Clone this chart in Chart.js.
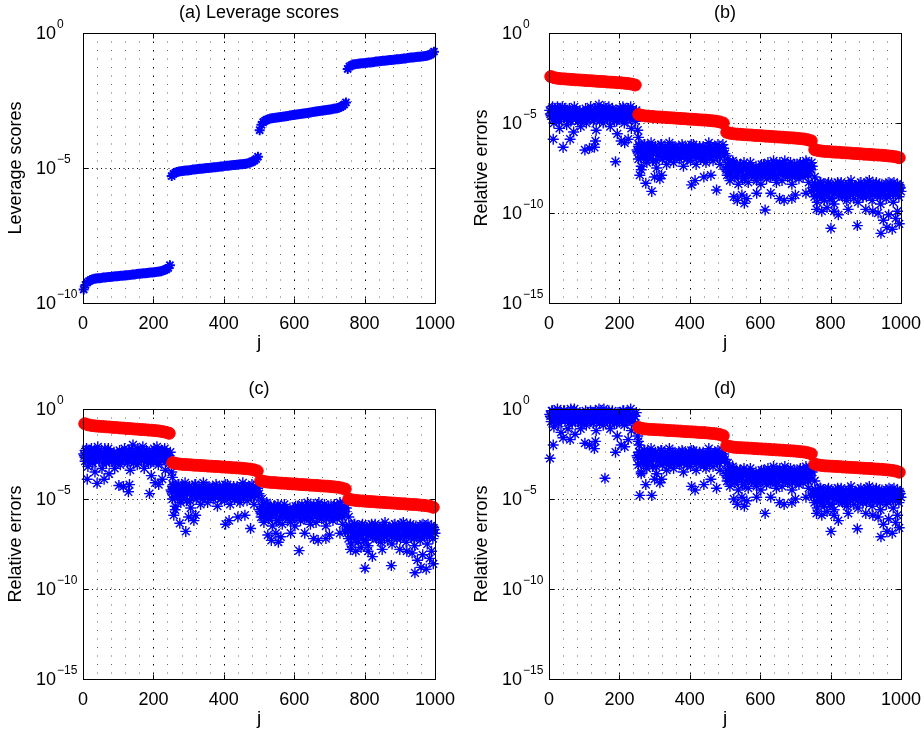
<!DOCTYPE html>
<html lang="en">
  <head>
    <meta charset="UTF-8" />
    <title>Leverage scores and relative errors</title>
    <script src="https://cdn.jsdelivr.net/npm/chart.js"></script>
    <style>
      * {
        margin: 0;
        padding: 0;
        box-sizing: border-box;
      }
      body {
        background: #fff;
        width: 924px;
        height: 732px;
        position: relative;
        overflow: hidden;
      }
      canvas {
        position: absolute;
      }
    </style>
  </head>
  <body>
    <canvas id="pa" width="462" height="366" style="left:0;top:0"></canvas>
    <canvas id="pb" width="462" height="366" style="left:462px;top:0"></canvas>
    <canvas id="pc" width="462" height="366" style="left:0;top:366px"></canvas>
    <canvas id="pd" width="462" height="366" style="left:462px;top:366px"></canvas>

    <script>
      // x axis
      const xTicks = [0, 200, 400, 600, 800, 1000];
      const xMinorStep = 40;
      // y ticks given as powers of ten
      const yTicksA = [0, -5, -10];
      const yTicksErr = [0, -5, -10, -15];

      // (a) leverage scores, log10 value at j = 2, 7, 12, ... 997
      const leverageLog = [
        -9.50,-9.33,-9.24,-9.19,-9.15,-9.12,-9.10,-9.09,-9.08,-9.08,
        -9.07,-9.06,-9.06,-9.05,-9.04,-9.04,-9.03,-9.02,-9.01,-9.01,
        -9.00,-8.99,-8.99,-8.98,-8.97,-8.97,-8.96,-8.95,-8.94,-8.94,
        -8.93,-8.92,-8.92,-8.91,-8.90,-8.90,-8.89,-8.88,-8.87,-8.87,
        -8.86,-8.85,-8.84,-8.83,-8.82,-8.80,-8.78,-8.75,-8.70,-8.60,
        -5.30,-5.22,-5.18,-5.15,-5.13,-5.12,-5.11,-5.10,-5.09,-5.09,
        -5.08,-5.07,-5.06,-5.06,-5.05,-5.04,-5.03,-5.03,-5.02,-5.01,
        -5.00,-5.00,-4.99,-4.98,-4.97,-4.97,-4.96,-4.95,-4.94,-4.94,
        -4.93,-4.92,-4.92,-4.91,-4.90,-4.89,-4.89,-4.88,-4.87,-4.86,
        -4.86,-4.85,-4.84,-4.83,-4.81,-4.79,-4.76,-4.72,-4.67,-4.58,
        -3.60,-3.40,-3.30,-3.25,-3.21,-3.19,-3.17,-3.16,-3.15,-3.14,
        -3.13,-3.12,-3.11,-3.10,-3.09,-3.08,-3.07,-3.06,-3.05,-3.04,
        -3.03,-3.02,-3.01,-3.00,-2.99,-2.98,-2.97,-2.96,-2.95,-2.94,
        -2.93,-2.92,-2.91,-2.90,-2.89,-2.88,-2.87,-2.86,-2.85,-2.84,
        -2.83,-2.82,-2.81,-2.80,-2.79,-2.77,-2.74,-2.70,-2.65,-2.57,
        -1.33,-1.24,-1.20,-1.17,-1.16,-1.15,-1.14,-1.13,-1.12,-1.12,
        -1.11,-1.10,-1.09,-1.09,-1.08,-1.07,-1.06,-1.06,-1.05,-1.04,
        -1.03,-1.03,-1.02,-1.01,-1.00,-1.00,-0.99,-0.98,-0.97,-0.97,
        -0.96,-0.95,-0.94,-0.94,-0.93,-0.92,-0.91,-0.91,-0.90,-0.89,
        -0.88,-0.88,-0.87,-0.86,-0.85,-0.84,-0.82,-0.80,-0.76,-0.69
      ];
      const leverageJ = leverageLog.map((_, i) => 2 + 5 * i);

      // red circles, log10 value at j = 5, 15, ... 995
      const redB = [
        -2.42,-2.48,-2.52,-2.54,-2.55,-2.57,-2.58,-2.60,-2.61,-2.62,-2.64,-2.65,-2.66,-2.68,-2.69,-2.70,-2.72,-2.73,-2.74,-2.76,-2.77,-2.79,-2.81,-2.84,-2.89,
        -4.53,-4.58,-4.61,-4.63,-4.64,-4.66,-4.67,-4.68,-4.70,-4.71,-4.72,-4.74,-4.75,-4.76,-4.78,-4.79,-4.80,-4.82,-4.83,-4.84,-4.86,-4.88,-4.90,-4.94,-5.00,
        -5.52,-5.57,-5.60,-5.62,-5.63,-5.65,-5.66,-5.67,-5.69,-5.70,-5.71,-5.73,-5.74,-5.75,-5.77,-5.78,-5.79,-5.81,-5.82,-5.83,-5.85,-5.87,-5.89,-5.93,-5.99,
        -6.48,-6.53,-6.56,-6.58,-6.59,-6.61,-6.62,-6.63,-6.65,-6.66,-6.67,-6.69,-6.70,-6.71,-6.73,-6.74,-6.75,-6.77,-6.78,-6.79,-6.81,-6.83,-6.85,-6.88,-6.93
      ];
      const redC = [
        -0.82,-0.88,-0.92,-0.94,-0.96,-0.97,-0.99,-1.00,-1.02,-1.03,-1.05,-1.06,-1.08,-1.09,-1.11,-1.12,-1.14,-1.15,-1.17,-1.18,-1.20,-1.22,-1.25,-1.29,-1.35,
        -2.98,-3.03,-3.06,-3.08,-3.09,-3.10,-3.12,-3.13,-3.14,-3.15,-3.17,-3.18,-3.19,-3.20,-3.22,-3.23,-3.24,-3.26,-3.27,-3.28,-3.30,-3.32,-3.34,-3.38,-3.44,
        -3.98,-4.03,-4.06,-4.08,-4.09,-4.11,-4.12,-4.13,-4.15,-4.16,-4.17,-4.19,-4.20,-4.21,-4.23,-4.24,-4.25,-4.27,-4.28,-4.29,-4.31,-4.33,-4.35,-4.39,-4.45,
        -5.00,-5.05,-5.08,-5.10,-5.11,-5.13,-5.14,-5.15,-5.17,-5.18,-5.19,-5.21,-5.22,-5.23,-5.25,-5.26,-5.27,-5.29,-5.30,-5.31,-5.33,-5.35,-5.37,-5.40,-5.46
      ];
      const redD = [
        null,null,null,null,null,null,null,null,null,null,null,null,null,null,null,null,null,null,null,null,null,null,null,null,null,
        -1.03,-1.08,-1.11,-1.13,-1.14,-1.15,-1.16,-1.17,-1.19,-1.20,-1.21,-1.22,-1.23,-1.25,-1.26,-1.27,-1.28,-1.30,-1.31,-1.32,-1.34,-1.36,-1.38,-1.42,-1.48,
        -2.04,-2.09,-2.12,-2.14,-2.15,-2.16,-2.17,-2.18,-2.20,-2.21,-2.22,-2.23,-2.24,-2.26,-2.27,-2.28,-2.29,-2.31,-2.32,-2.33,-2.35,-2.37,-2.39,-2.43,-2.49,
        -3.06,-3.11,-3.14,-3.16,-3.17,-3.18,-3.19,-3.20,-3.22,-3.23,-3.24,-3.25,-3.26,-3.28,-3.29,-3.30,-3.31,-3.33,-3.34,-3.35,-3.37,-3.39,-3.41,-3.45,-3.51
      ];
      const redJ = redB.map((_, i) => 5 + 10 * i);

      // blue asterisks (spread of the band), log10 value at j = 2, 6, 10, ... 998
      const blueB = [
        -4.3,-4.6,-4.1,-5.0,-4.4,-4.8,-4.2,-5.3,-4.5,-4.1,
        -4.7,-4.3,-5.1,-4.6,-4.2,-4.9,-4.4,-5.5,-4.6,-4.3,
        -4.9,-4.5,-5.2,-4.8,-4.4,-4.6,-5.0,-4.3,-4.7,-4.1,
        -4.5,-4.9,-4.2,-5.4,-4.4,-4.0,-4.7,-4.3,-5.0,-4.5,
        -4.2,-4.8,-4.1,-5.2,-4.6,-4.3,-4.9,-4.4,-5.6,-4.5,
        -4.2,-4.7,-4.1,-5.0,-4.4,-4.8,-4.2,-4.6,-5.3,-4.3,
        -4.5,-4.9,
        -6.5,-7.0,-6.3,-7.4,-6.7,-6.2,-6.9,-7.2,-6.4,-6.8,
        -6.1,-7.1,-6.6,-6.3,-7.5,-6.8,-6.5,-6.2,-7.0,-6.7,
        -6.4,-7.3,-6.6,-6.1,-6.9,-6.5,-7.2,-6.3,-6.8,-6.6,
        -7.0,-6.4,-6.2,-7.4,-6.7,-6.5,-6.9,-6.3,-7.1,-6.6,
        -6.2,-6.8,-7.3,-6.5,-6.4,-7.0,-6.7,-6.3,-6.9,-7.2,
        -6.5,-6.1,-6.8,-6.6,-7.1,-6.4,-6.3,-6.9,-6.6,-7.3,
        -6.5,-6.2,-6.8,
        -7.5,-7.9,-7.2,-8.2,-7.6,-7.1,-8.0,-7.4,-7.8,-8.4,
        -7.3,-7.7,-8.1,-7.2,-7.9,-7.5,-8.3,-7.4,-7.8,-7.6,
        -8.0,-7.6,-8.2,-7.7,-7.5,-8.4,-7.9,-7.3,-7.8,-8.1,
        -7.2,-7.6,-8.0,-7.4,-7.1,-7.9,-8.3,-7.5,-7.3,-7.7,
        -8.2,-7.4,-7.1,-7.8,-8.0,-7.5,-7.2,-8.4,-7.6,-7.3,
        -7.9,-7.6,-8.1,-7.2,-7.5,-8.0,-7.4,-7.1,-7.8,-8.3,
        -7.5,-7.2,
        -8.6,-9.1,-8.4,-9.4,-8.8,-8.3,-9.0,-8.7,-9.3,-8.5,
        -8.9,-8.3,-9.2,-8.6,-8.8,-9.5,-8.4,-8.7,-9.0,-8.5,
        -8.3,-9.1,-8.8,-8.6,-9.3,-8.4,-8.9,-8.2,-8.7,-9.2,
        -8.5,-8.8,-9.4,-8.6,-8.3,-9.0,-8.7,-8.4,-9.1,-8.6,
        -8.2,-8.9,-9.3,-8.5,-8.7,-8.3,-9.0,-8.6,-9.5,-8.4,
        -8.8,-8.5,-9.2,-8.7,-8.3,-9.0,-8.6,-9.4,-8.5,-8.8,
        -8.4,-9.1,-8.6
      ];
      const blueC = [
        -2.5,-2.9,-2.2,-3.2,-2.6,-2.3,-3.0,-2.7,-3.5,-2.4,
        -2.1,-2.8,-2.5,-3.3,-2.7,-2.2,-3.0,-2.6,-3.6,-2.4,
        -2.9,-2.6,-3.3,-2.8,-2.5,-2.7,-3.1,-2.4,-2.8,-2.2,
        -2.6,-3.0,-2.3,-3.4,-2.5,-2.0,-2.8,-2.4,-3.1,-2.6,
        -2.3,-2.9,-2.1,-3.3,-2.7,-2.4,-3.0,-2.5,-3.7,-2.6,
        -2.2,-2.8,-2.1,-3.1,-2.5,-2.9,-2.3,-2.7,-3.4,-2.4,
        -2.6,-3.0,
        -4.5,-5.0,-4.3,-5.4,-4.7,-4.2,-4.9,-5.2,-4.4,-4.8,
        -4.1,-5.1,-4.6,-4.3,-5.5,-4.8,-4.5,-4.2,-5.0,-4.7,
        -4.4,-5.3,-4.6,-4.1,-4.9,-4.5,-5.2,-4.3,-4.8,-4.6,
        -5.0,-4.4,-4.2,-5.4,-4.7,-4.5,-4.9,-4.3,-5.1,-4.6,
        -4.2,-4.8,-5.3,-4.5,-4.4,-5.0,-4.7,-4.3,-4.9,-5.2,
        -4.5,-4.1,-4.8,-4.6,-5.1,-4.4,-4.3,-4.9,-4.6,-5.3,
        -4.5,-4.2,-4.8,
        -5.6,-6.0,-5.3,-6.3,-5.7,-5.2,-6.1,-5.5,-5.9,-6.5,
        -5.4,-5.8,-6.2,-5.3,-6.0,-5.6,-6.4,-5.5,-5.9,-5.7,
        -6.1,-5.7,-6.3,-5.8,-5.6,-6.5,-6.0,-5.4,-5.9,-6.2,
        -5.3,-5.7,-6.1,-5.5,-5.2,-6.0,-6.4,-5.6,-5.4,-5.8,
        -6.3,-5.5,-5.2,-5.9,-6.1,-5.6,-5.3,-6.5,-5.7,-5.4,
        -6.0,-5.7,-6.2,-5.3,-5.6,-6.1,-5.5,-5.2,-5.9,-6.4,
        -5.6,-5.3,
        -6.7,-7.2,-6.5,-7.5,-6.9,-6.4,-7.1,-6.8,-7.4,-6.6,
        -7.0,-6.4,-7.3,-6.7,-6.9,-7.6,-6.5,-6.8,-7.1,-6.6,
        -6.4,-7.2,-6.9,-6.7,-7.4,-6.5,-7.0,-6.3,-6.8,-7.3,
        -6.6,-6.9,-7.5,-6.7,-6.4,-7.1,-6.8,-6.5,-7.2,-6.7,
        -6.3,-7.0,-7.4,-6.6,-6.8,-6.4,-7.1,-6.7,-7.6,-6.5,
        -6.9,-6.6,-7.3,-6.8,-6.4,-7.1,-6.7,-7.5,-6.6,-6.9,
        -6.5,-7.2,-6.7
      ];
      const blueD = [
        -0.3,-0.7,-0.1,-1.0,-0.4,-0.2,-0.8,-0.5,-1.3,-0.3,
        -0.1,-0.6,-0.3,-1.1,-0.5,0.0,-0.8,-0.4,-1.4,-0.2,
        -0.7,-0.4,-1.1,-0.6,-0.3,-0.5,-0.9,-0.2,-0.6,-0.1,
        -0.4,-0.8,-0.2,-1.2,-0.3,0.0,-0.6,-0.2,-0.9,-0.4,
        -0.2,-0.7,-0.1,-1.1,-0.5,-0.3,-0.8,-0.4,-1.5,-0.4,
        -0.2,-0.6,-0.1,-0.9,-0.3,-0.7,-0.2,-0.5,-1.2,-0.3,
        -0.4,-0.8,
        -2.6,-3.1,-2.4,-3.5,-2.8,-2.3,-3.0,-3.3,-2.5,-2.9,
        -2.2,-3.2,-2.7,-2.4,-3.6,-2.9,-2.6,-2.3,-3.1,-2.8,
        -2.5,-3.4,-2.7,-2.2,-3.0,-2.6,-3.3,-2.4,-2.9,-2.7,
        -3.1,-2.5,-2.3,-3.5,-2.8,-2.6,-3.0,-2.4,-3.2,-2.7,
        -2.3,-2.9,-3.4,-2.6,-2.5,-3.1,-2.8,-2.4,-3.0,-3.3,
        -2.6,-2.2,-2.9,-2.7,-3.2,-2.5,-2.4,-3.0,-2.7,-3.4,
        -2.6,-2.3,-2.9,
        -3.6,-4.0,-3.3,-4.3,-3.7,-3.2,-4.1,-3.5,-3.9,-4.5,
        -3.4,-3.8,-4.2,-3.3,-4.0,-3.6,-4.4,-3.5,-3.9,-3.7,
        -4.1,-3.7,-4.3,-3.8,-3.6,-4.5,-4.0,-3.4,-3.9,-4.2,
        -3.3,-3.7,-4.1,-3.5,-3.2,-4.0,-4.4,-3.6,-3.4,-3.8,
        -4.3,-3.5,-3.2,-3.9,-4.1,-3.6,-3.3,-4.5,-3.7,-3.4,
        -4.0,-3.7,-4.2,-3.3,-3.6,-4.1,-3.5,-3.2,-3.9,-4.4,
        -3.6,-3.3,
        -4.7,-5.2,-4.5,-5.5,-4.9,-4.4,-5.1,-4.8,-5.4,-4.6,
        -5.0,-4.4,-5.3,-4.7,-4.9,-5.6,-4.5,-4.8,-5.1,-4.6,
        -4.4,-5.2,-4.9,-4.7,-5.4,-4.5,-5.0,-4.3,-4.8,-5.3,
        -4.6,-4.9,-5.5,-4.7,-4.4,-5.1,-4.8,-4.5,-5.2,-4.7,
        -4.3,-5.0,-5.4,-4.6,-4.8,-4.4,-5.1,-4.7,-5.6,-4.5,
        -4.9,-4.6,-5.3,-4.8,-4.4,-5.1,-4.7,-5.5,-4.6,-4.9,
        -4.5,-5.2,-4.7
      ];
      const blueJ = blueB.map((_, i) => 2 + 4 * i);

      // blue asterisks (dense core of the band), log10 value at j = 4, 8, ... 1000
      const coreB = [
        -4.5,-4.2,-4.8,-4.4,-4.6,-4.1,-4.9,-4.3,-4.7,-4.5,
        -4.2,-4.6,-4.4,-4.9,-4.3,-4.7,-4.5,-4.1,-4.8,-4.4,
        -4.6,-4.3,-4.9,-4.5,-4.7,-4.2,-4.8,-4.4,-4.6,-4.3,
        -4.5,-4.8,-4.2,-4.6,-4.4,-4.9,-4.3,-4.7,-4.1,-4.5,
        -4.6,-4.3,-4.8,-4.4,-4.2,-4.7,-4.5,-4.9,-4.3,-4.6,
        -4.4,-4.8,-4.2,-4.5,-4.7,-4.3,-4.6,-4.1,-4.8,-4.4,
        -4.5,-4.3,
        -6.6,-6.3,-6.9,-6.5,-6.7,-6.2,-7.0,-6.4,-6.8,-6.6,
        -6.3,-6.7,-6.5,-7.1,-6.4,-6.8,-6.6,-6.2,-6.9,-6.5,
        -6.7,-6.4,-7.0,-6.6,-6.8,-6.3,-6.9,-6.5,-6.7,-6.4,
        -6.6,-6.9,-6.3,-6.7,-6.5,-7.0,-6.4,-6.8,-6.2,-6.6,
        -6.7,-6.4,-6.9,-6.5,-6.3,-6.8,-6.6,-7.0,-6.4,-6.7,
        -6.5,-6.9,-6.3,-6.6,-6.8,-6.4,-6.7,-6.2,-6.9,-6.5,
        -6.6,-6.4,-6.7,
        -7.6,-7.3,-7.9,-7.5,-7.7,-7.2,-8.0,-7.4,-7.8,-7.6,
        -7.3,-7.7,-7.5,-8.1,-7.4,-7.8,-7.6,-7.2,-7.9,-7.5,
        -7.7,-7.4,-8.0,-7.6,-7.8,-7.3,-7.9,-7.5,-7.7,-7.4,
        -7.6,-7.9,-7.3,-7.7,-7.5,-8.0,-7.4,-7.8,-7.2,-7.6,
        -7.7,-7.4,-7.9,-7.5,-7.3,-7.8,-7.6,-8.0,-7.4,-7.7,
        -7.5,-7.9,-7.3,-7.6,-7.8,-7.4,-7.7,-7.2,-7.9,-7.5,
        -7.6,-7.4,
        -8.7,-8.4,-9.0,-8.6,-8.8,-8.3,-9.1,-8.5,-8.9,-8.7,
        -8.4,-8.8,-8.6,-9.2,-8.5,-8.9,-8.7,-8.3,-9.0,-8.6,
        -8.8,-8.5,-9.1,-8.7,-8.9,-8.4,-9.0,-8.6,-8.8,-8.5,
        -8.7,-9.0,-8.4,-8.8,-8.6,-9.1,-8.5,-8.9,-8.3,-8.7,
        -8.8,-8.5,-9.0,-8.6,-8.4,-8.9,-8.7,-9.1,-8.5,-8.8,
        -8.6,-9.0,-8.4,-8.7,-8.9,-8.5,-8.8,-8.3,-9.0,-8.6,
        -8.7,-8.5,-8.8
      ];
      const coreC = [
        -2.6,-2.3,-2.9,-2.5,-2.7,-2.2,-3.0,-2.4,-2.8,-2.6,
        -2.3,-2.7,-2.5,-3.0,-2.4,-2.8,-2.6,-2.2,-2.9,-2.5,
        -2.7,-2.4,-3.0,-2.6,-2.8,-2.3,-2.9,-2.5,-2.7,-2.4,
        -2.6,-2.9,-2.3,-2.7,-2.5,-3.0,-2.4,-2.8,-2.2,-2.6,
        -2.7,-2.4,-2.9,-2.5,-2.3,-2.8,-2.6,-3.0,-2.4,-2.7,
        -2.5,-2.9,-2.3,-2.6,-2.8,-2.4,-2.7,-2.2,-2.9,-2.5,
        -2.6,-2.4,
        -4.6,-4.3,-4.9,-4.5,-4.7,-4.2,-5.0,-4.4,-4.8,-4.6,
        -4.3,-4.7,-4.5,-5.1,-4.4,-4.8,-4.6,-4.2,-4.9,-4.5,
        -4.7,-4.4,-5.0,-4.6,-4.8,-4.3,-4.9,-4.5,-4.7,-4.4,
        -4.6,-4.9,-4.3,-4.7,-4.5,-5.0,-4.4,-4.8,-4.2,-4.6,
        -4.7,-4.4,-4.9,-4.5,-4.3,-4.8,-4.6,-5.0,-4.4,-4.7,
        -4.5,-4.9,-4.3,-4.6,-4.8,-4.4,-4.7,-4.2,-4.9,-4.5,
        -4.6,-4.4,-4.7,
        -5.7,-5.4,-6.0,-5.6,-5.8,-5.3,-6.1,-5.5,-5.9,-5.7,
        -5.4,-5.8,-5.6,-6.2,-5.5,-5.9,-5.7,-5.3,-6.0,-5.6,
        -5.8,-5.5,-6.1,-5.7,-5.9,-5.4,-6.0,-5.6,-5.8,-5.5,
        -5.7,-6.0,-5.4,-5.8,-5.6,-6.1,-5.5,-5.9,-5.3,-5.7,
        -5.8,-5.5,-6.0,-5.6,-5.4,-5.9,-5.7,-6.1,-5.5,-5.8,
        -5.6,-6.0,-5.4,-5.7,-5.9,-5.5,-5.8,-5.3,-6.0,-5.6,
        -5.7,-5.5,
        -6.8,-6.5,-7.1,-6.7,-6.9,-6.4,-7.2,-6.6,-7.0,-6.8,
        -6.5,-6.9,-6.7,-7.3,-6.6,-7.0,-6.8,-6.4,-7.1,-6.7,
        -6.9,-6.6,-7.2,-6.8,-7.0,-6.5,-7.1,-6.7,-6.9,-6.6,
        -6.8,-7.1,-6.5,-6.9,-6.7,-7.2,-6.6,-7.0,-6.4,-6.8,
        -6.9,-6.6,-7.1,-6.7,-6.5,-7.0,-6.8,-7.2,-6.6,-6.9,
        -6.7,-7.1,-6.5,-6.8,-7.0,-6.6,-6.9,-6.4,-7.1,-6.7,
        -6.8,-6.6,-6.9
      ];
      const coreD = [
        -0.4,-0.1,-0.7,-0.3,-0.5,0.0,-0.8,-0.2,-0.6,-0.4,
        -0.1,-0.5,-0.3,-0.8,-0.2,-0.6,-0.4,0.0,-0.7,-0.3,
        -0.5,-0.2,-0.8,-0.4,-0.6,-0.1,-0.7,-0.3,-0.5,-0.2,
        -0.4,-0.7,-0.1,-0.5,-0.3,-0.8,-0.2,-0.6,0.0,-0.4,
        -0.5,-0.2,-0.7,-0.3,-0.1,-0.6,-0.4,-0.8,-0.2,-0.5,
        -0.3,-0.7,-0.1,-0.4,-0.6,-0.2,-0.5,0.0,-0.7,-0.3,
        -0.4,-0.2,
        -2.7,-2.4,-3.0,-2.6,-2.8,-2.3,-3.1,-2.5,-2.9,-2.7,
        -2.4,-2.8,-2.6,-3.2,-2.5,-2.9,-2.7,-2.3,-3.0,-2.6,
        -2.8,-2.5,-3.1,-2.7,-2.9,-2.4,-3.0,-2.6,-2.8,-2.5,
        -2.7,-3.0,-2.4,-2.8,-2.6,-3.1,-2.5,-2.9,-2.3,-2.7,
        -2.8,-2.5,-3.0,-2.6,-2.4,-2.9,-2.7,-3.1,-2.5,-2.8,
        -2.6,-3.0,-2.4,-2.7,-2.9,-2.5,-2.8,-2.3,-3.0,-2.6,
        -2.7,-2.5,-2.8,
        -3.7,-3.4,-4.0,-3.6,-3.8,-3.3,-4.1,-3.5,-3.9,-3.7,
        -3.4,-3.8,-3.6,-4.2,-3.5,-3.9,-3.7,-3.3,-4.0,-3.6,
        -3.8,-3.5,-4.1,-3.7,-3.9,-3.4,-4.0,-3.6,-3.8,-3.5,
        -3.7,-4.0,-3.4,-3.8,-3.6,-4.1,-3.5,-3.9,-3.3,-3.7,
        -3.8,-3.5,-4.0,-3.6,-3.4,-3.9,-3.7,-4.1,-3.5,-3.8,
        -3.6,-4.0,-3.4,-3.7,-3.9,-3.5,-3.8,-3.3,-4.0,-3.6,
        -3.7,-3.5,
        -4.8,-4.5,-5.1,-4.7,-4.9,-4.4,-5.2,-4.6,-5.0,-4.8,
        -4.5,-4.9,-4.7,-5.3,-4.6,-5.0,-4.8,-4.4,-5.1,-4.7,
        -4.9,-4.6,-5.2,-4.8,-5.0,-4.5,-5.1,-4.7,-4.9,-4.6,
        -4.8,-5.1,-4.5,-4.9,-4.7,-5.2,-4.6,-5.0,-4.4,-4.8,
        -4.9,-4.6,-5.1,-4.7,-4.5,-5.0,-4.8,-5.2,-4.6,-4.9,
        -4.7,-5.1,-4.5,-4.8,-5.0,-4.6,-4.9,-4.4,-5.1,-4.7,
        -4.8,-4.6,-4.9
      ];
      const coreJ = coreB.map((_, i) => 4 + 4 * i);

      // scattered low blue asterisks: j and log10 value
      const outJ = [
        12, 40, 60, 102, 115, 129, 132, 189, 205, 215, 225,
        252, 254, 256, 258, 262, 275, 292, 300, 315, 320, 405, 415, 440, 460, 476,
        508, 525, 535, 548, 555, 562, 590, 614, 630, 655, 668, 690, 700, 730, 745,
        755, 760, 775, 790, 801, 810, 822, 850, 876, 900, 920, 935, 943, 950, 960, 965, 975, 985, 990, 995
      ];
      const outB = [
        -5.9, -6.35, -5.9, -6.5, -6.4, -6.35, -6.0, -7.15, -6.0, -6.1, -5.9,
        -5.4, -5.8, -6.2, -7.9, -7.6, -8.35, -8.8, -8.0, -8.1, -7.9, -8.44, -8.2, -8.0, -7.9, -8.72,
        -7.0, -9.1, -9.3, -9.0, -9.46, -9.2, -8.9, -9.83, -8.9, -9.2, -9.3, -9.2, -9.0, -8.9, -8.8,
        -8.0, -9.8, -9.9, -9.7, -10.85, -9.9, -10.1, -9.8, -10.7, -9.8, -9.9, -10.0, -11.13, -10.4, -10.8, -10.1, -10.9, -10.3, -9.9, -10.6
      ];
      const outC = [
        -3.9, -4.13, -3.9, -4.25, -4.3, -4.6, -4.2, -4.7, -4.1, -4.2, -3.9,
        -3.5, -3.8, -4.2, -5.9, -5.6, -6.35, -6.8, -6.0, -6.2, -5.9, -6.4, -6.2, -6.0, -5.9, -6.64,
        -5.0, -7.0, -7.3, -6.9, -7.4, -7.1, -6.9, -7.87, -6.9, -7.2, -7.3, -7.2, -7.0, -6.9, -6.8,
        -6.0, -7.8, -7.9, -7.7, -8.85, -7.9, -8.2, -7.8, -8.7, -7.8, -7.9, -8.0, -9.1, -8.4, -8.8, -8.1, -8.9, -8.3, -7.9, -8.6
      ];
      const outD = [
        -2.0, -1.6, -1.7, -1.9, -2.0, -2.2, -1.8, -2.4, -2.0, -2.1, -1.7,
        -1.5, -1.8, -2.0, -4.8, -3.6, -4.2, -4.8, -3.9, -4.1, -3.9, -4.3, -4.5, -4.2, -3.9, -4.4,
        -3.0, -5.0, -5.3, -4.9, -5.4, -5.1, -4.9, -5.8, -4.9, -5.2, -5.3, -5.2, -5.0, -4.9, -4.8,
        -4.0, -5.8, -5.9, -5.7, -6.8, -5.9, -6.2, -5.8, -6.65, -5.8, -5.9, -6.0, -7.1, -6.4, -6.8, -6.1, -6.9, -6.3, -5.9, -6.6
      ];
      // two more isolated points seen in (d)
      const extraJD = [3, 159];
      const extraD = [-2.74, -3.85];

      const FONT = '"Liberation Sans", Arial, Helvetica, sans-serif';
      const BLUE = "#0000ff";
      const RED = "#ff0000";

      function pts(js, logs) {
        const out = [];
        logs.forEach((v, i) => {
          if (v !== null) out.push({ x: js[i], y: Math.pow(10, v) });
        });
        return out;
      }

      function supLabel(ctx, xRight, py, e) {
        ctx.font = "18px " + FONT;
        ctx.textAlign = "right";
        ctx.textBaseline = "middle";
        ctx.fillText("10", xRight, py + 1);
        ctx.font = "12px " + FONT;
        ctx.textAlign = "left";
        ctx.fillText(e === 0 ? "0" : "\u2212" + -e, xRight + 1, py - 8);
      }

      const matlabAxes = {
        id: "matlabAxes",
        beforeDatasetsDraw(chart, args, o) {
          const { ctx, chartArea: a } = chart;
          const x = chart.scales.x;
          const y = chart.scales.y;
          ctx.save();
          ctx.lineWidth = 1;
          for (let j = xMinorStep; j < xTicks[xTicks.length - 1]; j += xMinorStep) {
            const px = Math.round(x.getPixelForValue(j)) + 0.5;
            const major = xTicks.includes(j);
            ctx.strokeStyle = major ? "#000" : "#666";
            ctx.setLineDash(major ? [1.5, 7] : [1, 7.5]);
            ctx.beginPath();
            ctx.moveTo(px, a.top);
            ctx.lineTo(px, a.bottom);
            ctx.stroke();
          }
          o.yTicks.forEach((e, k) => {
            if (k === 0 || k === o.yTicks.length - 1) return;
            const py = Math.round(y.getPixelForValue(Math.pow(10, e))) + 0.5;
            ctx.strokeStyle = "#000";
            ctx.setLineDash([1, 3.5]);
            ctx.beginPath();
            ctx.moveTo(a.left, py);
            ctx.lineTo(a.right, py);
            ctx.stroke();
          });
          ctx.restore();
        },
        afterDraw(chart, args, o) {
          const { ctx, chartArea: a } = chart;
          const x = chart.scales.x;
          const y = chart.scales.y;
          ctx.save();
          ctx.strokeStyle = "#000";
          ctx.fillStyle = "#000";
          ctx.lineWidth = 1;
          const L = Math.round(a.left) + 0.5, R = Math.round(a.right) + 0.5;
          const T = Math.round(a.top) + 0.5, B = Math.round(a.bottom) + 0.5;
          ctx.strokeRect(L, T, R - L, B - T);
          ctx.beginPath();
          xTicks.forEach((j) => {
            const px = Math.round(x.getPixelForValue(j)) + 0.5;
            ctx.moveTo(px, B); ctx.lineTo(px, B - 5);
            ctx.moveTo(px, T); ctx.lineTo(px, T + 5);
          });
          o.yTicks.forEach((e) => {
            const py = Math.round(y.getPixelForValue(Math.pow(10, e))) + 0.5;
            ctx.moveTo(L, py); ctx.lineTo(L + 5, py);
            ctx.moveTo(R, py); ctx.lineTo(R - 5, py);
          });
          ctx.stroke();

          // tick labels
          ctx.font = "18px " + FONT;
          ctx.textAlign = "center";
          ctx.textBaseline = "alphabetic";
          xTicks.forEach((j) => {
            ctx.fillText(String(j), x.getPixelForValue(j), a.bottom + 25.5);
          });
          o.yTicks.forEach((e) => {
            supLabel(ctx, a.left - 27, y.getPixelForValue(Math.pow(10, e)), e);
          });

          // title and axis labels
          const cx = (a.left + a.right) / 2;
          ctx.font = "18px " + FONT;
          ctx.textAlign = "center";
          ctx.textBaseline = "middle";
          ctx.fillText(o.title, cx, a.top - 20);
          ctx.textBaseline = "alphabetic";
          ctx.font = "19px " + FONT;
          ctx.fillText("j", cx, a.bottom + 45);
          ctx.save();
          ctx.translate(a.left - 66.5, (a.top + a.bottom) / 2);
          ctx.rotate(-Math.PI / 2);
          ctx.font = "18px " + FONT;
          ctx.textBaseline = "middle";
          ctx.fillText(o.ylab, 0, 0);
          ctx.restore();
          ctx.restore();
        },
      };

      function makePanel(id, pad, opts, datasets) {
        return new Chart(document.getElementById(id), {
          type: "scatter",
          data: { datasets },
          options: {
            responsive: false,
            animation: false,
            events: [],
            devicePixelRatio: 1,
            layout: { padding: pad },
            scales: {
              x: { type: "linear", min: 0, max: 1000, display: false },
              y: {
                type: "logarithmic",
                min: Math.pow(10, opts.yTicks[opts.yTicks.length - 1]),
                max: 1,
                display: false,
              },
            },
            plugins: {
              legend: { display: false },
              tooltip: { enabled: false },
              matlabAxes: opts,
            },
          },
          plugins: [matlabAxes],
        });
      }

      function redSet(vals) {
        return {
          data: pts(redJ, vals),
          pointStyle: "circle",
          pointRadius: 6,
          backgroundColor: RED,
          borderColor: RED,
          borderWidth: 1,
          clip: 8,
        };
      }
      function blueSet(data, r, w) {
        return {
          data,
          pointStyle: "star",
          pointRadius: r,
          backgroundColor: BLUE,
          borderColor: BLUE,
          borderWidth: w,
          clip: 8,
        };
      }

      const padTopL = { left: 83, right: 27, top: 33, bottom: 63 };
      const padTopR = { left: 87, right: 23, top: 33, bottom: 63 };
      const padBotL = { left: 83, right: 27, top: 43, bottom: 53 };
      const padBotR = { left: 87, right: 23, top: 43, bottom: 53 };

      makePanel("pa", padTopL,
        { title: "(a) Leverage scores", ylab: "Leverage scores", yTicks: yTicksA },
        [blueSet(pts(leverageJ, leverageLog), 5, 2)]);

      makePanel("pb", padTopR,
        { title: "(b)", ylab: "Relative errors", yTicks: yTicksErr },
        [redSet(redB),
         blueSet(pts(blueJ, blueB).concat(pts(coreJ, coreB), pts(outJ, outB)), 5.5, 1.4)]);

      makePanel("pc", padBotL,
        { title: "(c)", ylab: "Relative errors", yTicks: yTicksErr },
        [redSet(redC),
         blueSet(pts(blueJ, blueC).concat(pts(coreJ, coreC), pts(outJ, outC)), 5.5, 1.4)]);

      makePanel("pd", padBotR,
        { title: "(d)", ylab: "Relative errors", yTicks: yTicksErr },
        [redSet(redD),
         blueSet(pts(blueJ, blueD).concat(pts(coreJ, coreD), pts(outJ, outD), pts(extraJD, extraD)), 5.5, 1.4)]);
    </script>
  </body>
</html>
